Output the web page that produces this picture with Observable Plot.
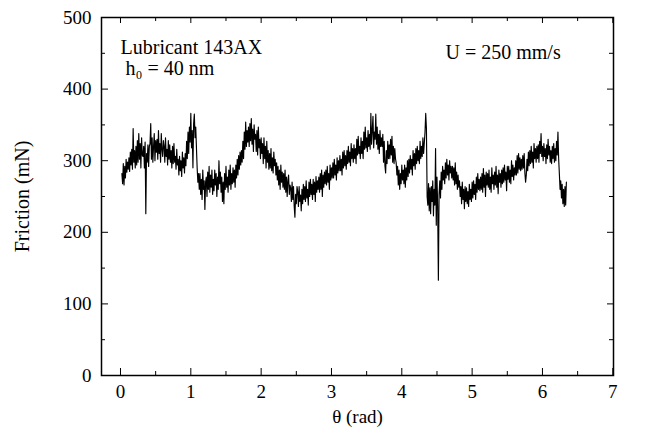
<!DOCTYPE html>
<html><head><meta charset="utf-8">
<script src="https://cdn.jsdelivr.net/npm/d3@7"></script>
<script src="https://cdn.jsdelivr.net/npm/@observablehq/plot@0.6"></script>
<style>body{margin:0;background:#fff} svg{display:block}</style>
</head><body><div id="chart"></div>
<script>
// sampling grid of the friction trace (rad)
const thetaStart = 0.02, thetaStep = 0.01;
// friction force (mN) (noisy trace), 10 samples per 0.1 rad
const friction = [
 282,268,296,266,292,276,302,284,298,288,
 304,285,312,294,316,288,345,298,314,290,
 320,294,328,298,338,302,324,290,332,308,
 306,320,290,326,226,310,298,322,292,320,
 324,352,302,332,298,320,338,300,328,312,
 330,302,342,310,324,298,338,316,306,328,
 320,298,332,306,316,294,328,302,322,298,
 314,290,320,296,324,298,306,288,316,294,
 302,280,306,286,300,278,312,290,304,283,
 310,293,327,303,340,310,347,326,366,318,
 342,290,352,365,332,347,318,290,270,282,
 260,282,253,274,246,287,260,272,232,270,
 277,250,284,260,292,256,280,263,287,253,
 274,258,287,266,282,250,277,260,300,268,
 284,256,277,243,270,240,282,260,292,263,
 277,256,287,266,294,260,282,268,290,270,
 287,263,294,276,302,280,307,288,312,294,
 314,298,327,303,340,316,354,320,342,326,
 347,320,352,328,359,323,344,313,350,330,
 337,313,342,308,347,318,330,303,332,310,
 324,296,332,303,320,290,327,298,314,288,
 310,290,317,286,304,283,312,293,302,280,
 297,273,292,266,287,260,294,270,284,263,
 282,260,287,256,277,250,272,280,253,266,
 262,243,270,246,264,236,221,253,240,264,
 257,236,264,243,252,230,260,240,267,246,
 264,243,272,248,260,238,270,250,274,253,
 267,246,274,253,270,243,278,256,272,260,
 277,256,282,260,287,250,280,263,284,268,
 287,266,292,270,282,260,294,273,290,276,
 297,276,302,280,294,273,304,283,300,286,
 307,286,302,280,312,290,314,293,307,288,
 314,296,320,298,312,293,324,303,317,298,
 322,303,317,296,330,308,334,310,320,303,
 332,310,327,303,340,316,347,318,332,313,
 342,320,337,316,366,323,342,362,318,340,
 330,365,323,347,316,337,310,342,320,332,
 320,337,298,327,293,283,314,296,327,303,
 322,303,330,308,334,298,320,296,317,303,
 297,280,292,266,287,260,282,268,294,273,
 287,268,294,263,290,273,300,278,302,283,
 307,288,302,280,314,293,310,288,317,296,
 320,300,314,296,327,303,320,306,332,310,
 325,340,366,345,250,238,268,230,262,226,
 264,243,272,223,260,238,317,210,277,236,
 133,253,272,248,284,260,292,273,287,268,
 297,276,302,280,294,273,300,283,292,276,
 292,273,290,266,297,268,284,260,280,263,
 272,250,264,240,270,246,260,233,264,243,
 262,240,257,236,267,246,260,243,270,248,
 272,253,267,246,277,256,282,260,274,258,
 277,260,282,256,289,263,280,250,284,266,
 282,263,287,260,277,256,290,268,280,260,
 284,266,292,263,280,254,287,270,282,263,
 287,268,290,270,294,273,284,258,292,274,
 292,270,287,268,300,278,294,273,290,280,
 300,280,307,283,310,288,304,286,302,288,
 307,290,310,283,270,280,302,286,312,293,
 314,296,320,298,312,290,324,303,317,298,
 320,303,322,298,327,310,338,306,320,300,
 324,306,317,296,322,303,330,308,320,298,
 314,296,320,303,324,298,317,300,327,308,
 340,303,282,260,272,248,267,240,260,236,
 264,238,270
];
const xMajorTicks = [0, 1, 2, 3, 4, 5, 6, 7];
const xMinorTicks = [0.5, 1.5, 2.5, 3.5, 4.5, 5.5, 6.5];
const yMajorTicks = [0, 100, 200, 300, 400, 500];
const yMinorTicks = [50, 150, 250, 350, 450];
const annotations = ["Lubricant 143AX", "h\u2080 = 40 nm", "U = 250 mm/s"];
const xLabel = "\u03b8 (rad)";
const yLabel = "Friction (mN)";

const W = 649, H = 432, mL = 101, mR = 36, mT = 17, mB = 57;
const innerW = W - mL - mR, innerH = H - mT - mB;
const data = friction.map((v, i) => ({theta: thetaStart + i * thetaStep, f: v}));
const font = "'Liberation Serif', 'Times New Roman', serif";
const fs = 20, fsTick = 19;

const chart = Plot.plot({
  width: W, height: H,
  marginLeft: mL, marginRight: mR, marginTop: mT, marginBottom: mB,
  style: {fontFamily: font, fontSize: fs + "px", background: "white", color: "black"},
  x: {domain: [-0.27, 7.01]},
  y: {domain: [0, 500]},
  marks: [
    Plot.line(data, {x: "theta", y: "f", stroke: "black", strokeWidth: 1.15}),
    Plot.tickX(xMajorTicks, {insetTop: innerH - 7, stroke: "black"}),
    Plot.tickX(xMajorTicks, {insetBottom: innerH - 6, stroke: "black"}),
    Plot.tickX(xMinorTicks, {insetTop: innerH - 4, stroke: "black"}),
    Plot.tickX(xMinorTicks, {insetBottom: innerH - 4, stroke: "black"}),
    Plot.tickY(yMajorTicks, {insetRight: innerW - 7, stroke: "black"}),
    Plot.tickY(yMajorTicks, {insetLeft: innerW - 6, stroke: "black"}),
    Plot.tickY(yMinorTicks, {insetRight: innerW - 4, stroke: "black"}),
    Plot.tickY(yMinorTicks, {insetLeft: innerW - 4, stroke: "black"}),
    Plot.axisX({ticks: xMajorTicks, tickSize: 0, tickPadding: 9, fontSize: fsTick, label: null}),
    Plot.axisY({ticks: yMajorTicks, tickSize: 0, tickPadding: 10, fontSize: fsTick, label: null}),
    Plot.frame({stroke: "black", strokeWidth: 1.5}),
    Plot.text([yLabel], {frameAnchor: "left", dx: -79, rotate: -90, textAnchor: "middle", lineAnchor: "middle", fontSize: fs}),
    Plot.text([xLabel], {frameAnchor: "bottom", dy: 41, lineAnchor: "middle", fontSize: fsTick}),
    Plot.text([annotations[0]], {frameAnchor: "top-left", dx: 19, dy: 30, textAnchor: "start", lineAnchor: "middle", fontSize: fs}),
    Plot.text([annotations[1]], {frameAnchor: "top-left", dx: 24, dy: 51, textAnchor: "start", lineAnchor: "middle", fontSize: fs}),
    Plot.text([annotations[2]], {frameAnchor: "top-left", dx: 344, dy: 35, textAnchor: "start", lineAnchor: "middle", fontSize: fs})
  ]
});
document.getElementById("chart").appendChild(chart);
</script>
</body></html>
